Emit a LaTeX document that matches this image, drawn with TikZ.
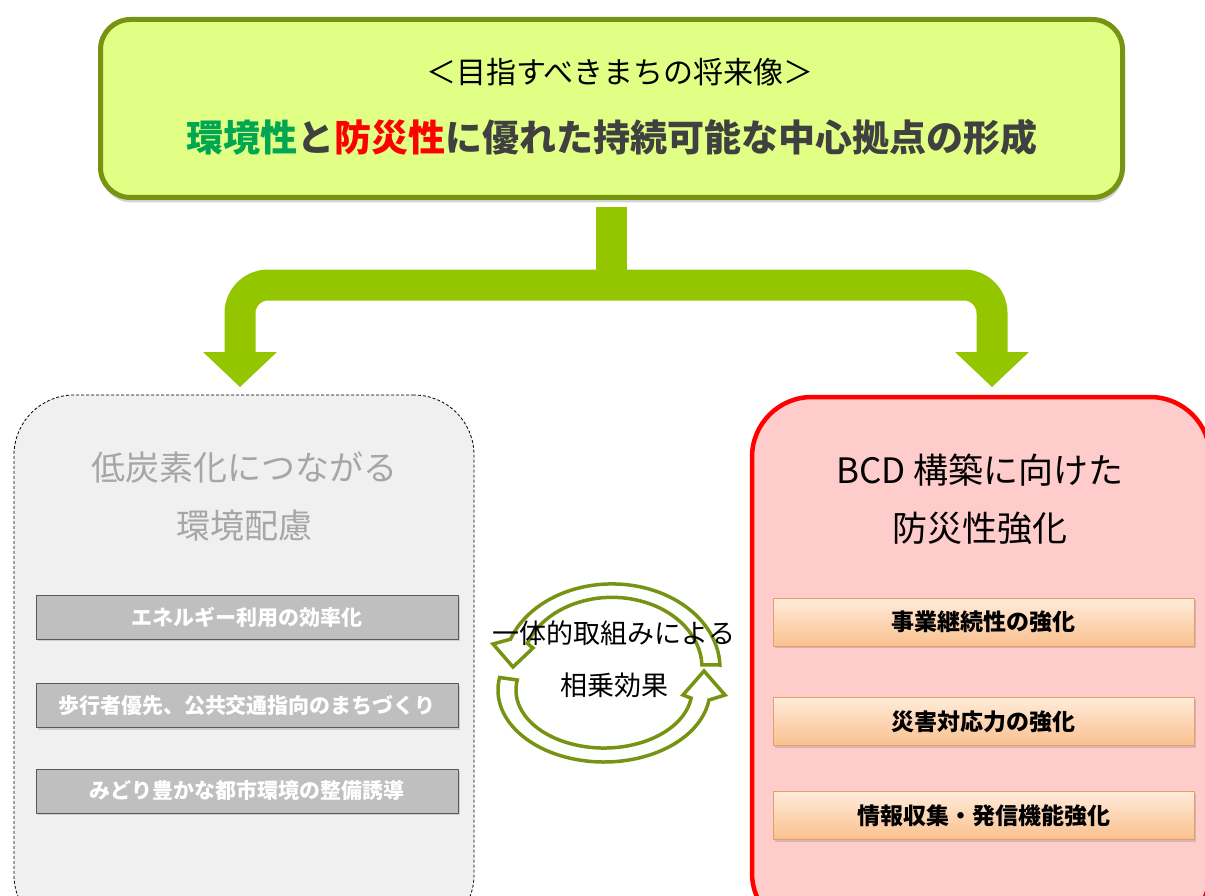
\documentclass[tikz,border=0pt]{standalone}
\usepackage{fontspec}
\newfontfamily\jp{Noto Sans CJK JP}
\usepackage{tikz}
\usetikzlibrary{shadows}
\definecolor{visionfill}{RGB}{226,255,133}
\definecolor{visionline}{RGB}{119,147,18}
\definecolor{trunkgreen}{RGB}{148,198,0}
\definecolor{ecogreen}{RGB}{0,166,80}
\definecolor{textgray}{RGB}{64,64,64}
\definecolor{panelgray}{RGB}{240,240,240}
\definecolor{itemgray}{RGB}{191,191,191}
\definecolor{itemline}{RGB}{89,89,89}
\definecolor{titlegray}{RGB}{166,166,166}
\definecolor{panelpink}{RGB}{255,204,204}
\definecolor{itemtop}{RGB}{255,236,218}
\definecolor{itembottom}{RGB}{250,192,143}
\definecolor{itemorange}{RGB}{228,160,100}
\begin{document}
\begin{tikzpicture}[x=1pt,y=1pt,line join=round,
  vision/.style={draw=visionline,line width=5pt,fill=visionfill,rounded corners=30pt,minimum width=1022pt,minimum height=178pt,drop shadow={shadow xshift=1pt,shadow yshift=-5pt,opacity=0.35}},
  trunk/.style={draw=trunkgreen,line width=31pt},
  ecopanel/.style={draw=black,line width=0.8pt,dash pattern=on 3pt off 2pt,fill=panelgray,rounded corners=60pt,minimum width=460pt,minimum height=540pt},
  bcdpanel/.style={draw=red,line width=4.5pt,fill=panelpink,rounded corners=60pt,minimum width=458pt,minimum height=536pt},
  ecoitem/.style={draw=itemline,line width=1pt,fill=itemgray,minimum width=422pt,minimum height=44pt,text=white,font=\jp\bfseries\fontsize{21}{25}\selectfont,drop shadow={shadow xshift=1.5pt,shadow yshift=-2pt,opacity=0.3}},
  bcditem/.style={draw=itemorange,line width=1pt,top color=itemtop,bottom color=itembottom,minimum width=421pt,minimum height=48pt,font=\jp\bfseries\fontsize{23}{27}\selectfont,drop shadow={shadow xshift=1.5pt,shadow yshift=-2pt,opacity=0.3}},
  cyclearrow/.style={draw=visionline,line width=3.5pt,fill=white,line join=miter}]
\useasboundingbox (0,0) rectangle (1205,-896);
\clip (0,0) rectangle (1205,-896);
\node[vision] (top) at (611.5,-108.5) {};
\node[font=\jp\fontsize{30}{36}\selectfont] (vision) at (620,-72) {＜目指すべきまちの将来像＞};
\node[font=\jp\bfseries\fontsize{37}{44}\selectfont,text=textgray] (goal) at (611.5,-137) {\textcolor{ecogreen}{環境性}と\textcolor{red}{防災性}に優れた持続可能な中心拠点の形成};
\coordinate (fork) at (top.south |- 0,-285);
\coordinate (lefttip) at (240,-387);
\coordinate (righttip) at (992,-387);
\draw[trunk] ([yshift=-7pt]top.south) -- (fork);
\draw[trunk,rounded corners=28pt] (lefttip |- 0,-353) |- (fork) -| (righttip |- 0,-353);
\fill[trunkgreen] (lefttip) -- ++(-37,35) -- ++(74,0) -- cycle;
\fill[trunkgreen] (righttip) -- ++(-37,35) -- ++(74,0) -- cycle;
\node[ecopanel] (eco) at (244,-665) {};
\node[bcdpanel] (bcd) at (981,-665) {};
\node[align=center,font=\jp\fontsize{34}{58}\selectfont,text=titlegray] (ecotitle) at (244,-496) {低炭素化につながる\\環境配慮};
\node[align=center,font=\jp\fontsize{35}{58}\selectfont] (bcdtitle) at (980,-499) {BCD 構築に向けた\\防災性強化};
\node[ecoitem] (energy) at (247,-617) {エネルギー利用の効率化};
\node[ecoitem] (transit) at (247,-705.5) {歩行者優先、公共交通指向のまちづくり};
\node[ecoitem] (green) at (247,-791) {みどり豊かな都市環境の整備誘導};
\node[bcditem] (business) at (983.5,-622) {事業継続性の強化};
\node[bcditem] (response) at (983.5,-721.5) {災害対応力の強化};
\node[bcditem] (info) at (983.5,-815.5) {情報収集・発信機能強化};
\filldraw[cyclearrow] (719.9,-665.0) arc[start angle=2,end angle=160,x radius=108,y radius=84] -- (493,-644) -- (513,-667) -- (533,-648) -- (527.4,-643.4) arc[start angle=160,end angle=2,x radius=90,y radius=70] -- cycle;
\filldraw[cyclearrow] (499.6,-677.5) arc[start angle=170,end angle=352,x radius=106,y radius=72] -- (725,-695) -- (704,-671) -- (683,-695) -- (691.1,-698.1) arc[start angle=352,end angle=170,x radius=88,y radius=58] -- cycle;
\node[align=center,font=\jp\fontsize{27}{52}\selectfont] (synergy) at (614,-659) {一体的取組みによる\\相乗効果};
\end{tikzpicture}
\end{document}
